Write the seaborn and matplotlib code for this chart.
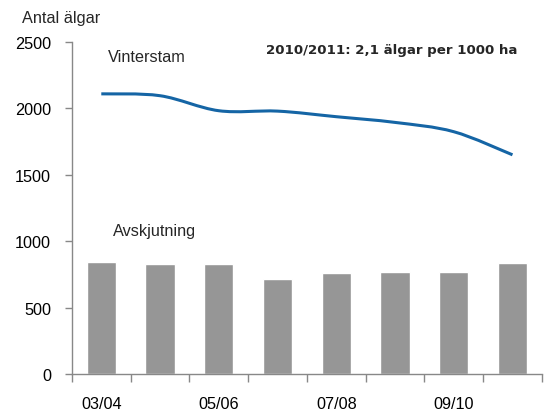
import numpy as np
import pandas as pd
import matplotlib
matplotlib.use("Agg")
import matplotlib.pyplot as plt
from matplotlib.path import Path
from matplotlib.patches import PathPatch
from matplotlib.ticker import FixedLocator, NullFormatter
import seaborn as sns

seasons = ["03/04", "04/05", "05/06", "06/07", "07/08", "08/09", "09/10", "10/11"]
vinterstam = [2110, 2096, 1983, 1980, 1938, 1895, 1825, 1651]
avskjutning = [846, 828, 828, 715, 763, 770, 770, 836]
tick_labels = ["03/04", "", "05/06", "", "07/08", "", "09/10", ""]

sns.set_style("white")
plt.rcParams["font.family"] = ["Liberation Sans", "DejaVu Sans"]

df = pd.DataFrame({"season": seasons, "avskjutning": avskjutning})

fig = plt.figure(figsize=(5.49, 4.14), dpi=100)
ax = fig.add_axes([0.131, 0.094, 0.856, 0.802])

sns.barplot(data=df, x="season", y="avskjutning", color="#969696",
            saturation=1, width=0.5, ax=ax)

# smoothed line (Catmull-Rom style bezier like Excel)
xs = np.arange(len(vinterstam), dtype=float)
ys = np.array(vinterstam, dtype=float)
pts = np.column_stack([xs, ys])
verts = [tuple(pts[0])]
codes = [Path.MOVETO]
n = len(pts)
for i in range(n - 1):
    p0 = pts[max(i - 1, 0)]
    p1 = pts[i]
    p2 = pts[i + 1]
    p3 = pts[min(i + 2, n - 1)]
    c1 = p1 + (p2 - p0) / 6
    c2 = p2 - (p3 - p1) / 6
    verts += [tuple(c1), tuple(c2), tuple(p2)]
    codes += [Path.CURVE4] * 3
ax.add_patch(PathPatch(Path(verts, codes), fill=False, edgecolor="#1565A5",
                       lw=2.2, capstyle="butt", transform=ax.transData))

ax.set_xlim(-0.5, len(seasons) - 0.5)
ax.set_ylim(0, 2500)
ax.set_yticks([0, 500, 1000, 1500, 2000, 2500])
ax.set_xlabel("")
ax.set_ylabel("")

ax.set_xticks(range(len(seasons)))
ax.set_xticklabels(tick_labels)
ax.xaxis.set_minor_locator(FixedLocator(np.arange(-0.5, len(seasons), 1.0)))
ax.xaxis.set_minor_formatter(NullFormatter())
ax.tick_params(axis="x", which="major", length=0, pad=16, labelsize=11.7, colors="black")
ax.tick_params(axis="x", which="minor", bottom=True, length=6, width=1, color="#888888")
ax.tick_params(axis="y", left=True, length=5, width=1, color="#888888", pad=10,
               labelsize=11.7, labelcolor="black")

for s in ["top", "right"]:
    ax.spines[s].set_visible(False)
for s in ["left", "bottom"]:
    ax.spines[s].set_color("#888888")
    ax.spines[s].set_linewidth(1)

ax.text(0.077, 0.958, "Vinterstam", transform=ax.transAxes, fontsize=11.7,
        ha="left", va="center")
ax.text(0.087, 0.431, "Avskjutning", transform=ax.transAxes, fontsize=11.7,
        ha="left", va="center")
ax.text(0.948, 0.979, "2010/2011: 2,1 älgar per 1000 ha", transform=ax.transAxes,
        fontsize=9.6, fontweight="bold", family="DejaVu Sans", ha="right", va="center")
fig.text(0.040, 0.956, "Antal älgar", fontsize=11.7, ha="left", va="center")

fig.savefig("out.png", dpi=100)
